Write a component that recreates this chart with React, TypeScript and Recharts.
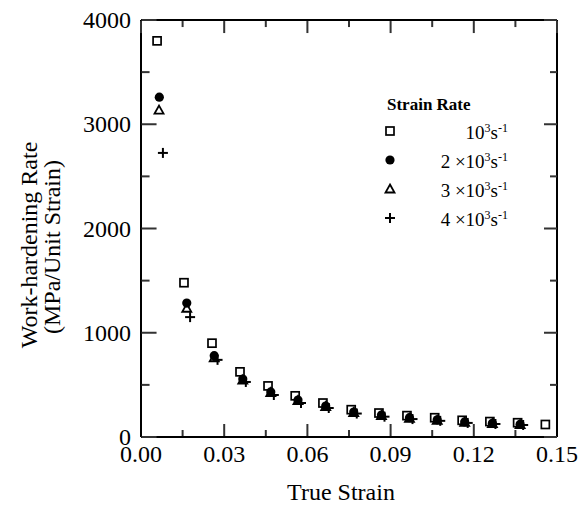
import React from "react";
import { ScatterChart, Scatter, XAxis, YAxis, Legend, Label, ReferenceLine } from "recharts";

// strain positions and work-hardening rates
const strainSquare = [0.0058, 0.0155, 0.0256, 0.0357, 0.0458, 0.0556, 0.0656, 0.0758, 0.0858, 0.0959, 0.1059, 0.1158, 0.1258, 0.1358, 0.1458];
const rateSquare = [3800, 1480, 900, 625, 490, 395, 326, 262, 230, 205, 185, 160, 148, 137, 120];

const strainCircle = [0.0066, 0.0165, 0.0264, 0.0367, 0.0468, 0.0566, 0.0666, 0.0767, 0.0867, 0.0968, 0.1068, 0.1167, 0.1267, 0.1367];
const rateCircle = [3260, 1285, 780, 556, 432, 355, 297, 240, 210, 185, 165, 145, 132, 122];

const strainTriangle = [0.0065, 0.0165, 0.0264, 0.0367, 0.0468, 0.0566, 0.0666, 0.0767, 0.0867, 0.0968, 0.1068, 0.1167, 0.1267, 0.1367];
const rateTriangle = [3135, 1235, 760, 545, 425, 350, 292, 235, 205, 180, 160, 140, 128, 118];

const strainPlus = [0.0079, 0.0177, 0.0276, 0.0378, 0.0479, 0.0577, 0.0677, 0.0778, 0.0878, 0.0979, 0.1079, 0.1178, 0.1278, 0.1378];
const ratePlus = [2725, 1150, 740, 528, 403, 326, 278, 225, 195, 172, 155, 135, 125, 115];

const xMajor = [0, 0.03, 0.06, 0.09, 0.12, 0.15];
const xMinor = [0.015, 0.045, 0.075, 0.105, 0.135];
const yMajor = [0, 1000, 2000, 3000, 4000];
const yMinor = [500, 1500, 2500, 3500];

const legendMultipliers = ["", "2 \u00d7", "3 \u00d7", "4 \u00d7"];
const legendShapes = ["square", "circle", "triangle", "plus"];

const FONT = '"Liberation Serif", "Times New Roman", serif';
const TICK = "#333";
const X_MAX = 0.15;
const Y_MAX = 4000;

const zip = (xs: number[], ys: number[]) => xs.map((x, i) => ({ strain: x, rate: ys[i] }));

const Marker = ({ kind, cx, cy }: { kind: string; cx: number; cy: number }) => {
  switch (kind) {
    case "square":
      return <rect x={cx - 4} y={cy - 4} width={8} height={8} fill="#fff" stroke="#000" strokeWidth={1.7} />;
    case "circle":
      return <circle cx={cx} cy={cy} r={4.6} fill="#000" />;
    case "triangle":
      return <path d={`M${cx},${cy - 4.5} L${cx + 4.5},${cy + 3.5} L${cx - 4.5},${cy + 3.5} Z`} fill="#fff" stroke="#000" strokeWidth={1.8} />;
    case "tick-top-M":
      return <rect x={cx - 1} y={cy} width={2} height={12} fill={TICK} />;
    case "tick-top-m":
      return <rect x={cx - 1} y={cy} width={2} height={6} fill={TICK} />;
    case "tick-left-M":
      return <rect x={cx} y={cy - 1} width={15} height={2} fill={TICK} />;
    case "tick-left-m":
      return <rect x={cx} y={cy - 1} width={8} height={2} fill={TICK} />;
    case "tick-right-M":
      return <rect x={cx - 13} y={cy - 1} width={13} height={2} fill={TICK} />;
    case "tick-right-m":
      return <rect x={cx - 7} y={cy - 1} width={7} height={2} fill={TICK} />;
    default:
      return (
        <g>
          <line x1={cx - 5} y1={cy} x2={cx + 5} y2={cy} stroke="#000" strokeWidth={2} />
          <line x1={cx} y1={cy - 5} x2={cx} y2={cy + 5} stroke="#000" strokeWidth={2} />
        </g>
      );
  }
};

const shapeOf = (kind: string) => (p: any) => <Marker kind={kind} cx={p.cx} cy={p.cy} />;

const xLabelTick = (p: any) => (
  <text x={p.x} y={Number(p.y) + 25} textAnchor="middle" fill="#000" fontSize={24} fontFamily={FONT}>
    {Number(p.payload.value).toFixed(2)}
  </text>
);

const yLabelTick = (p: any) => (
  <text x={Number(p.x) - 10} y={Number(p.y) + 8} textAnchor="end" fill="#000" fontSize={24} fontFamily={FONT}>
    {p.payload.value}
  </text>
);

const YTitle = () => (
  <g fontFamily={FONT} fontSize={24} fill="#000">
    <text x={29} y={245} transform="rotate(-90 29 245)" textAnchor="middle" dominantBaseline="central">
      Work-hardening Rate
    </text>
    <text x={52} y={247} transform="rotate(-90 52 247)" textAnchor="middle" dominantBaseline="central">
      (MPa/Unit Strain)
    </text>
  </g>
);

const XTitle = () => (
  <text x={341} y={500} textAnchor="middle" fontFamily={FONT} fontSize={24} fill="#000">
    True Strain
  </text>
);

const LegendBox = () => (
  <div style={{ fontFamily: FONT, color: "#000", width: 128 }}>
    <div style={{ fontSize: 17, fontWeight: "bold", lineHeight: "22px", paddingLeft: 7 }}>Strain Rate</div>
    {legendMultipliers.map((m, i) => (
      <div key={i} style={{ display: "flex", alignItems: "center", height: 29 }}>
        <svg width={20} height={20} style={{ flex: "none" }}>
          <Marker kind={legendShapes[i]} cx={10} cy={10} />
        </svg>
        <div style={{ flex: 1, textAlign: "right", fontSize: 19, lineHeight: "29px" }}>
          {m}10<sup style={{ fontSize: 12 }}>3</sup>s<sup style={{ fontSize: 12 }}>-1</sup>
        </div>
      </div>
    ))}
  </div>
);

export default function App() {
  const axisLine = { stroke: "#000", strokeWidth: 2 };
  const topMajor = xMajor.map((v) => ({ strain: v, rate: 3990 }));
  const topMinor = xMinor.map((v) => ({ strain: v, rate: 3990 }));
  const leftMajor = yMajor.map((v) => ({ strain: 0.0002, rate: v }));
  const leftMinor = yMinor.map((v) => ({ strain: 0.0002, rate: v }));
  const rightMajor = yMajor.map((v) => ({ strain: X_MAX, rate: v }));
  const rightMinor = yMinor.map((v) => ({ strain: X_MAX, rate: v }));

  return (
    <div style={{ position: "absolute", left: 0, top: 0, background: "#fff" }}>
      <ScatterChart width={580} height={507} margin={{ top: 19, right: 22, bottom: 0, left: 0 }}>
        <XAxis
          xAxisId="b"
          type="number"
          dataKey="strain"
          domain={[0, X_MAX]}
          ticks={xMajor}
          interval={0}
          height={70}
          tickSize={0}
          tickMargin={0}
          tickLine={false}
          axisLine={axisLine}
          tick={xLabelTick}
        >
          <Label content={XTitle} />
        </XAxis>
        <XAxis xAxisId="t" orientation="top" type="number" dataKey="strain" domain={[0, X_MAX]} height={1} tick={false} tickLine={false} axisLine={axisLine} />
        <YAxis
          yAxisId="l"
          type="number"
          dataKey="rate"
          domain={[0, Y_MAX]}
          ticks={yMajor}
          interval={0}
          width={141}
          tickSize={0}
          tickMargin={0}
          tickLine={false}
          axisLine={axisLine}
          tick={yLabelTick}
        >
          <Label content={YTitle} />
        </YAxis>
        <YAxis yAxisId="r" orientation="right" type="number" dataKey="rate" domain={[0, Y_MAX]} width={1} tick={false} tickLine={false} axisLine={axisLine} />
        <Legend
          layout="vertical"
          align="center"
          verticalAlign="middle"
          content={LegendBox}
          wrapperStyle={{ left: 380, top: 94, width: 128 }}
        />
        {xMajor.map((v) => (
          <ReferenceLine key={`bM-${v}`} xAxisId="b" yAxisId="l" segment={[{ x: v, y: 0 }, { x: v, y: 125 }]} stroke={TICK} strokeWidth={2} />
        ))}
        {xMinor.map((v) => (
          <ReferenceLine key={`bm-${v}`} xAxisId="b" yAxisId="l" segment={[{ x: v, y: 0 }, { x: v, y: 67 }]} stroke={TICK} strokeWidth={2} />
        ))}
        <Scatter name="10^3" xAxisId="b" yAxisId="l" data={zip(strainSquare, rateSquare)} shape={shapeOf("square")} isAnimationActive={false} />
        <Scatter name="3x10^3" xAxisId="b" yAxisId="l" data={zip(strainTriangle, rateTriangle)} shape={shapeOf("triangle")} isAnimationActive={false} />
        <Scatter name="4x10^3" xAxisId="b" yAxisId="l" data={zip(strainPlus, ratePlus)} shape={shapeOf("plus")} isAnimationActive={false} />
        <Scatter name="2x10^3" xAxisId="b" yAxisId="l" data={zip(strainCircle, rateCircle)} shape={shapeOf("circle")} isAnimationActive={false} />
        <Scatter name="tM" xAxisId="b" yAxisId="l" data={topMajor} shape={shapeOf("tick-top-M")} isAnimationActive={false} />
        <Scatter name="tm" xAxisId="b" yAxisId="l" data={topMinor} shape={shapeOf("tick-top-m")} isAnimationActive={false} />
        <Scatter name="lM" xAxisId="b" yAxisId="l" data={leftMajor} shape={shapeOf("tick-left-M")} isAnimationActive={false} />
        <Scatter name="lm" xAxisId="b" yAxisId="l" data={leftMinor} shape={shapeOf("tick-left-m")} isAnimationActive={false} />
        <Scatter name="rM" xAxisId="b" yAxisId="l" data={rightMajor} shape={shapeOf("tick-right-M")} isAnimationActive={false} />
        <Scatter name="rm" xAxisId="b" yAxisId="l" data={rightMinor} shape={shapeOf("tick-right-m")} isAnimationActive={false} />
        <Scatter name="frame" xAxisId="t" yAxisId="r" data={[]} isAnimationActive={false} />
      </ScatterChart>
    </div>
  );
}
